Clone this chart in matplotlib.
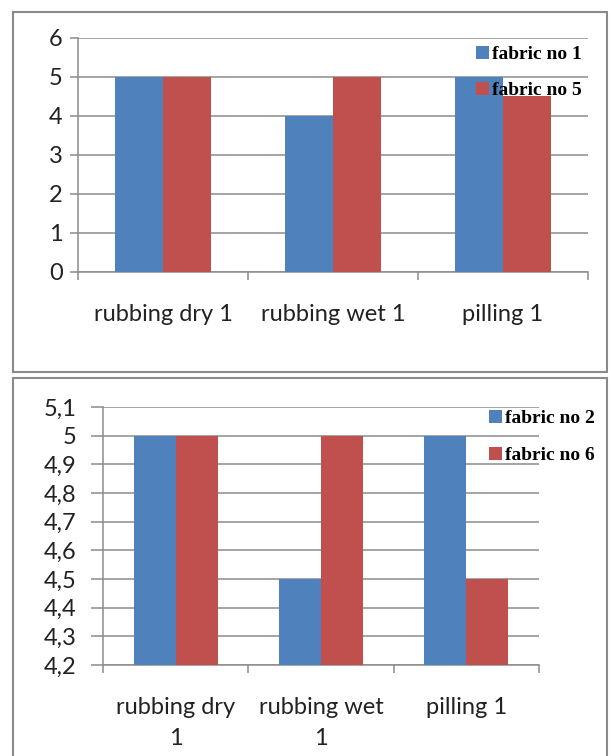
import matplotlib
matplotlib.use("Agg")
import matplotlib.pyplot as plt
from matplotlib.patches import Rectangle
import numpy as np

# данные
cats_top = ["rubbing dry 1", "rubbing wet 1", "pilling 1"]
fabric1 = [5, 4, 5]
fabric5 = [5, 5, 4.5]
cats_bot = ["rubbing dry\n1", "rubbing wet\n1", "pilling 1"]
fabric2 = [5, 4.5, 5]
fabric6 = [5, 5, 4.5]
yt_top = [0, 1, 2, 3, 4, 5, 6]
yt_bot = [4.2, 4.3, 4.4, 4.5, 4.6, 4.7, 4.8, 4.9, 5.0, 5.1]

BLUE, RED = "#4F81BD", "#C0504D"
GRID = "#8c8c8c"
TICKFONT = "Lato"
W, H = 610, 756

fig = plt.figure(figsize=(W / 100, H / 100), dpi=100)

# рамки панелей
for (x0, y0, x1, y1) in [(13, 12, 607, 372), (13, 378, 607, 760)]:
    fig.patches.append(Rectangle((x0 / W, 1 - y1 / H), (x1 - x0) / W, (y1 - y0) / H,
                                 transform=fig.transFigure, fill=False,
                                 edgecolor="#8a8a8a", lw=1.5))


def panel(rect, cats, s1, s2, names, yticks, ylim, ylabels, bw, leg_xy, ylen, ypad, lsp):
    ax = fig.add_axes(rect)
    x = np.arange(len(cats))
    ax.bar(x - bw / 2, s1, bw, color=BLUE, label=names[0], zorder=3)
    ax.bar(x + bw / 2, s2, bw, color=RED, label=names[1], zorder=3)
    ax.set_xlim(-0.5, len(cats) - 0.5)
    ax.set_ylim(*ylim)
    ax.set_yticks(yticks)
    ax.set_yticklabels(ylabels, fontsize=17, family=TICKFONT, color="#222222")
    ax.grid(axis="y", color=GRID, lw=1.1, zorder=0)
    for s in ["top", "right"]:
        ax.spines[s].set_visible(False)
    for s in ["left", "bottom"]:
        ax.spines[s].set_color(GRID)
        ax.spines[s].set_linewidth(1.1)
    # разделители категорий на оси x
    ax.set_xticks(np.arange(len(cats) + 1) - 0.5)
    ax.set_xticklabels([])
    ax.tick_params(axis="x", length=6, color=GRID, width=1.1)
    ax.tick_params(axis="y", length=ylen, color=GRID, width=1.1, pad=ypad)
    ax.set_xticks(x, minor=True)
    ax.set_xticklabels(cats, minor=True, fontsize=17, family=TICKFONT, color="#222222",
                       linespacing=1.6)
    ax.tick_params(axis="x", which="minor", length=0, pad=23)
    ax.legend(loc="upper left", bbox_to_anchor=leg_xy, bbox_transform=fig.transFigure,
              frameon=False, handlelength=0.65, handleheight=0.65, handletextpad=0.15,
              labelspacing=lsp, borderpad=0, borderaxespad=0,
              prop={"family": "Liberation Serif", "weight": "bold", "size": 14})
    return ax


panel([78 / W, 1 - 272 / H, (588 - 78) / W, (272 - 37.7) / H],
      cats_top, fabric1, fabric5, ["fabric no 1", "fabric no 5"],
      yt_top, (0, 6), [str(v) for v in yt_top], 0.285, (476 / W, 1 - 46 / H), 6, 5, 0.95)

panel([103 / W, 1 - 665 / H, (539 - 103) / W, (665 - 407) / H],
      cats_bot, fabric2, fabric6, ["fabric no 2", "fabric no 6"],
      yt_bot, (4.2, 5.1), [f"{v:g}".replace(".", ",") for v in yt_bot], 0.29,
      (489 / W, 1 - 410 / H), 9, 10, 1.0)

fig.savefig("out.png", dpi=100)
